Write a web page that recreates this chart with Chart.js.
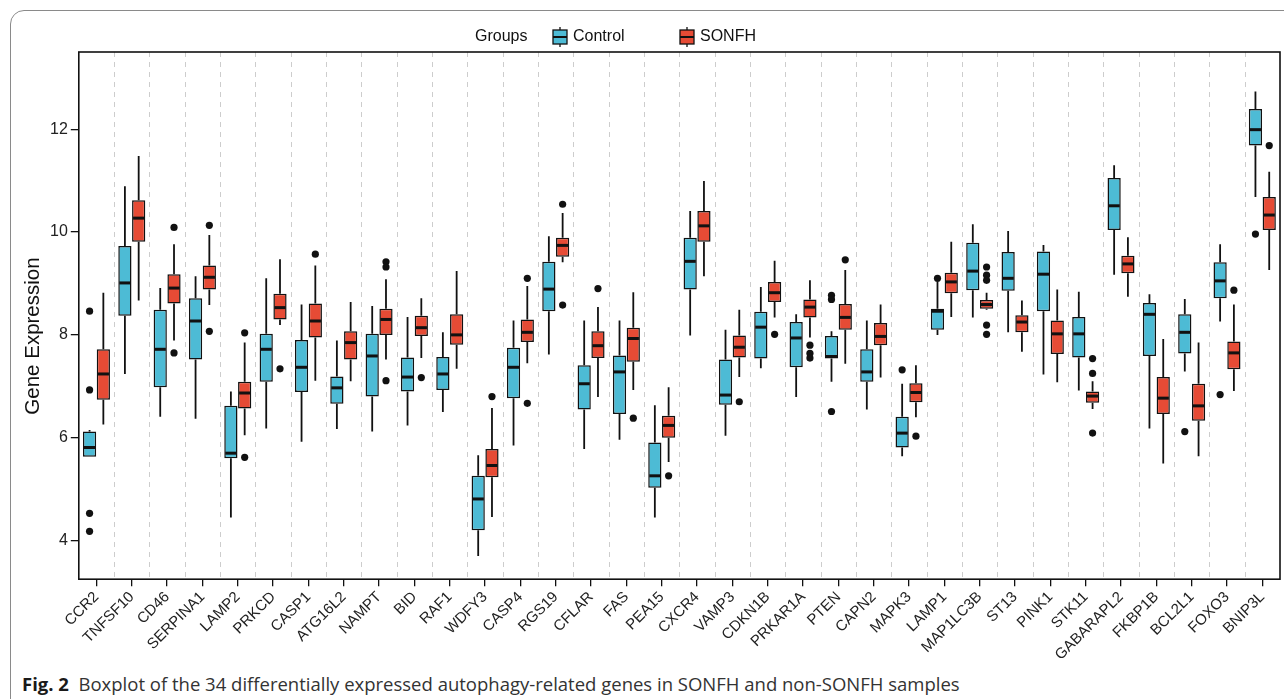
<!DOCTYPE html>
<html>
<head>
<meta charset="utf-8">
<title>Boxplot of autophagy-related genes</title>
<script src="https://cdn.jsdelivr.net/npm/chart.js@4.4.1/dist/chart.umd.min.js"></script>
<style>
  html, body { margin: 0; padding: 0; background: #fff; width: 1284px; height: 699px; overflow: hidden; }
  .card {
    position: absolute; left: 10px; top: 10px; width: 1320px; height: 740px;
    border: 1.5px solid #8a8a8a; border-radius: 14px; box-sizing: border-box;
  }
  .chart-wrap { position: absolute; left: 0; top: 0; width: 1284px; height: 666px; }
  .caption {
    position: absolute; left: 22px; top: 672px; white-space: nowrap; line-height: 24px;
    font-family: "Open Sans", "Noto Sans", sans-serif; font-size: 18.5px; color: #333;
  }
  .caption b { color: #1a1a1a; }
</style>
</head>
<body>
<div class="card"></div>
<div class="chart-wrap"><canvas id="boxChart"></canvas></div>
<div class="caption"><b>Fig. 2</b>&nbsp; Boxplot of the 34 differentially expressed autophagy-related genes in SONFH and non-SONFH samples</div>

<script>
// ============================================
// DATA
// ============================================
const genes = ['CCR2', 'TNFSF10', 'CD46', 'SERPINA1', 'LAMP2', 'PRKCD', 'CASP1', 'ATG16L2',
  'NAMPT', 'BID', 'RAF1', 'WDFY3', 'CASP4', 'RGS19', 'CFLAR', 'FAS', 'PEA15', 'CXCR4',
  'VAMP3', 'CDKN1B', 'PRKAR1A', 'PTEN', 'CAPN2', 'MAPK3', 'LAMP1', 'MAP1LC3B', 'ST13',
  'PINK1', 'STK11', 'GABARAPL2', 'FKBP1B', 'BCL2L1', 'FOXO3', 'BNIP3L'];

const groups = ['Control', 'SONFH'];
const groupColors = ['#4DBBD5', '#E64B35'];

// [lower whisker, Q1, median, Q3, upper whisker]
const controlBox = [
  [5.63, 5.63, 5.81, 6.12, 6.15], [7.24, 8.37, 9.01, 9.73, 10.89], [6.41, 6.98, 7.72, 8.49, 8.91],
  [6.37, 7.52, 8.27, 8.71, 9.14], [4.45, 5.60, 5.70, 6.62, 6.90], [6.18, 7.09, 7.72, 8.02, 9.10],
  [5.92, 6.89, 7.37, 7.90, 8.59], [6.17, 6.66, 6.97, 7.19, 7.89], [6.12, 6.80, 7.59, 8.02, 8.56],
  [6.24, 6.90, 7.18, 7.56, 8.35], [6.50, 6.93, 7.24, 7.57, 8.05], [3.70, 4.20, 4.81, 5.26, 5.66],
  [5.85, 6.77, 7.37, 7.75, 8.28], [7.62, 8.46, 8.89, 9.42, 9.92], [5.78, 6.55, 7.05, 7.41, 8.28],
  [5.96, 6.46, 7.28, 7.60, 8.28], [4.45, 5.03, 5.26, 5.91, 6.63], [7.99, 8.88, 9.43, 9.89, 10.41],
  [6.04, 6.64, 6.83, 7.52, 8.10], [7.35, 7.54, 8.15, 8.45, 8.93], [6.79, 7.37, 7.94, 8.25, 8.40],
  [7.09, 7.54, 7.58, 7.98, 8.07], [6.55, 7.09, 7.28, 7.72, 8.28], [5.64, 5.81, 6.09, 6.41, 7.05],
  [8.00, 8.10, 8.46, 8.51, 9.03], [8.34, 8.87, 9.24, 9.79, 10.15], [8.05, 8.86, 9.10, 9.61, 10.02],
  [7.23, 8.46, 9.18, 9.62, 9.75], [6.92, 7.56, 8.02, 8.35, 8.84], [9.17, 10.04, 10.51, 11.05, 11.30],
  [6.18, 7.59, 8.40, 8.62, 8.79], [7.29, 7.64, 8.05, 8.40, 8.70], [8.26, 8.71, 9.05, 9.41, 9.76],
  [10.68, 11.68, 11.99, 12.39, 12.73]
];

const sonfhBox = [
  [6.26, 6.74, 7.24, 7.72, 8.82], [8.67, 9.81, 10.27, 10.62, 11.48], [7.89, 8.61, 8.91, 9.18, 9.76],
  [8.58, 8.88, 9.12, 9.35, 9.94], [6.05, 6.57, 6.87, 7.09, 7.85], [8.19, 8.30, 8.53, 8.80, 9.47],
  [7.11, 7.95, 8.27, 8.61, 9.35], [7.10, 7.52, 7.85, 8.07, 8.64], [7.52, 8.00, 8.30, 8.51, 9.08],
  [7.55, 7.98, 8.14, 8.37, 8.71], [7.34, 7.81, 8.00, 8.40, 9.24], [4.46, 5.23, 5.46, 5.78, 6.58],
  [7.45, 7.86, 8.05, 8.30, 8.95], [9.41, 9.52, 9.74, 9.89, 10.37], [6.79, 7.55, 7.79, 8.07, 8.54],
  [6.93, 7.48, 7.93, 8.14, 8.83], [5.53, 6.00, 6.24, 6.43, 6.98], [9.14, 9.81, 10.12, 10.41, 10.99],
  [7.18, 7.56, 7.76, 7.99, 8.49], [8.34, 8.64, 8.82, 9.03, 9.44], [7.95, 8.34, 8.54, 8.69, 9.06],
  [7.44, 8.10, 8.34, 8.60, 9.26], [7.17, 7.80, 7.97, 8.23, 8.59], [6.40, 6.69, 6.88, 7.06, 7.41],
  [8.35, 8.81, 9.03, 9.21, 9.81], [8.49, 8.51, 8.59, 8.68, 8.82], [7.67, 8.05, 8.25, 8.38, 8.67],
  [7.08, 7.63, 8.02, 8.28, 8.88], [6.56, 6.68, 6.81, 6.90, 7.10], [8.74, 9.20, 9.38, 9.54, 9.90],
  [5.50, 6.46, 6.77, 7.18, 7.92], [5.64, 6.33, 6.62, 7.05, 7.85], [6.91, 7.33, 7.65, 7.87, 8.59],
  [9.26, 10.04, 10.33, 10.68, 11.17]
];

const controlOutliers = [
  [8.46, 6.93, 4.53, 4.18], [], [], [], [], [], [], [], [], [], [], [], [], [], [], [], [], [],
  [], [], [], [8.77, 8.69, 6.51], [], [7.32], [9.10], [], [], [], [], [], [], [6.12], [6.84], [9.96]
];

const sonfhOutliers = [
  [], [], [10.09, 7.65], [10.13, 8.07], [8.04, 5.62], [7.34], [9.57], [], [9.42, 9.32, 7.11],
  [7.17], [], [6.80], [9.10, 6.67], [10.54, 8.58], [8.90], [6.38], [5.26], [], [6.70], [8.01],
  [7.80, 7.64, 7.55], [9.46], [], [6.03], [], [9.32, 9.16, 9.06, 8.19, 8.01], [], [],
  [7.54, 7.25, 6.09], [], [], [], [8.87], [11.68]
];

const yTicks = [4, 6, 8, 10, 12];
const yMin = 3.25;
const yMax = 13.5;
const yTitle = 'Gene Expression';

const boxSets = [controlBox, sonfhBox];
const outlierSets = [controlOutliers, sonfhOutliers];

const FONT = '"Liberation Sans", Arial, sans-serif';

// ============================================
// BOXPLOT PARTS (whiskers, medians, outliers, frame, legend)
// ============================================
function drawGlyph(ctx, cx, top, w, h, color) {
  ctx.strokeStyle = '#111';
  ctx.lineWidth = 1.3;
  ctx.beginPath();
  ctx.moveTo(cx, top);
  ctx.lineTo(cx, top + h);
  ctx.stroke();
  ctx.fillStyle = color;
  ctx.fillRect(cx - w / 2, top + 3, w, h - 6);
  ctx.strokeRect(cx - w / 2, top + 3, w, h - 6);
  ctx.lineWidth = 2;
  ctx.beginPath();
  ctx.moveTo(cx - w / 2, top + h / 2);
  ctx.lineTo(cx + w / 2, top + h / 2);
  ctx.stroke();
}

const boxplotParts = {
  id: 'boxplotParts',
  beforeDatasetsDraw(chart) {
    const { ctx, chartArea, scales } = chart;
    const x = scales.x;
    const y = scales.y;
    ctx.save();

    // dashed separators between genes
    ctx.strokeStyle = '#cdcdcd';
    ctx.lineWidth = 1;
    ctx.setLineDash([5, 5]);
    for (let i = 0; i < genes.length - 1; i++) {
      const xb = Math.round((x.getPixelForTick(i) + x.getPixelForTick(i + 1)) / 2) + 0.5;
      ctx.beginPath();
      ctx.moveTo(xb, chartArea.top);
      ctx.lineTo(xb, chartArea.bottom);
      ctx.stroke();
    }
    ctx.setLineDash([]);

    // whiskers
    ctx.strokeStyle = '#111';
    ctx.lineWidth = 1.8;
    boxSets.forEach((set, d) => {
      const meta = chart.getDatasetMeta(d);
      set.forEach((b, i) => {
        const cx = meta.data[i].x;
        ctx.beginPath();
        ctx.moveTo(cx, y.getPixelForValue(b[0]));
        ctx.lineTo(cx, y.getPixelForValue(b[1]));
        ctx.moveTo(cx, y.getPixelForValue(b[3]));
        ctx.lineTo(cx, y.getPixelForValue(b[4]));
        ctx.stroke();
      });
    });
    ctx.restore();
  },
  afterDatasetsDraw(chart) {
    const { ctx, scales } = chart;
    const y = scales.y;
    ctx.save();
    boxSets.forEach((set, d) => {
      const meta = chart.getDatasetMeta(d);
      set.forEach((b, i) => {
        const el = meta.data[i];
        const my = y.getPixelForValue(b[2]);
        ctx.strokeStyle = '#111';
        ctx.lineWidth = 3;
        ctx.beginPath();
        ctx.moveTo(el.x - el.width / 2 + 1, my);
        ctx.lineTo(el.x + el.width / 2 - 1, my);
        ctx.stroke();

        ctx.fillStyle = '#111';
        outlierSets[d][i].forEach(v => {
          ctx.beginPath();
          ctx.arc(el.x, y.getPixelForValue(v), 3.6, 0, Math.PI * 2);
          ctx.fill();
        });
      });
    });
    ctx.restore();
  },
  afterDraw(chart) {
    const { ctx, chartArea } = chart;
    ctx.save();

    // panel frame
    ctx.strokeStyle = '#111';
    ctx.lineWidth = 1.6;
    ctx.strokeRect(chartArea.left, chartArea.top, chartArea.right - chartArea.left, chartArea.bottom - chartArea.top);

    // y axis title (sits a little below the panel centre in the figure)
    ctx.save();
    ctx.translate(33, 336);
    ctx.rotate(-Math.PI / 2);
    ctx.font = '20.5px ' + FONT;
    ctx.fillStyle = '#111';
    ctx.textAlign = 'center';
    ctx.textBaseline = 'middle';
    ctx.fillText(yTitle, 0, 0);
    ctx.restore();

    // legend on top
    const legendY = 37;
    ctx.font = '16px ' + FONT;
    ctx.fillStyle = '#111';
    ctx.textBaseline = 'middle';
    ctx.textAlign = 'left';
    ctx.fillText('Groups', 475, legendY);
    const glyphX = [560, 687];
    groups.forEach((g, k) => {
      drawGlyph(ctx, glyphX[k], legendY - 10, 14, 20, groupColors[k]);
      ctx.fillStyle = '#111';
      ctx.fillText(g, glyphX[k] + 13, legendY);
    });
    ctx.restore();
  }
};

// ============================================
// CHART
// ============================================
document.addEventListener('DOMContentLoaded', function() {
  'use strict';

  const ctx = document.getElementById('boxChart').getContext('2d');

  new Chart(ctx, {
    type: 'bar',
    data: {
      labels: genes,
      datasets: boxSets.map((set, d) => ({
        label: groups[d],
        data: set.map(b => [b[1], b[3]]),
        backgroundColor: groupColors[d],
        borderColor: '#111',
        borderWidth: 1.5,
        borderSkipped: false,
        categoryPercentage: 0.78,
        barPercentage: 0.96
      }))
    },
    options: {
      responsive: true,
      maintainAspectRatio: false,
      devicePixelRatio: 1,
      animation: false,
      layout: {
        padding: { top: 52, left: 47, right: 4, bottom: 0 }
      },
      plugins: {
        legend: { display: false },
        tooltip: { enabled: false }
      },
      scales: {
        x: {
          border: { display: false },
          grid: {
            offset: false,
            drawOnChartArea: false,
            drawTicks: true,
            tickLength: 7,
            color: '#111',
            lineWidth: 1.3
          },
          ticks: {
            autoSkip: false,
            minRotation: 45,
            maxRotation: 45,
            padding: 2,
            color: '#222',
            font: { family: FONT, size: 15 }
          }
        },
        y: {
          min: yMin,
          max: yMax,
          border: { display: false },
          afterBuildTicks: axis => {
            axis.ticks = yTicks.map(v => ({ value: v }));
          },
          grid: {
            drawOnChartArea: false,
            drawTicks: true,
            tickLength: 8,
            color: '#111',
            lineWidth: 1.3
          },
          ticks: {
            padding: 3,
            color: '#222',
            font: { family: FONT, size: 16 }
          }
        }
      }
    },
    plugins: [boxplotParts]
  });
});
</script>
</body>
</html>
